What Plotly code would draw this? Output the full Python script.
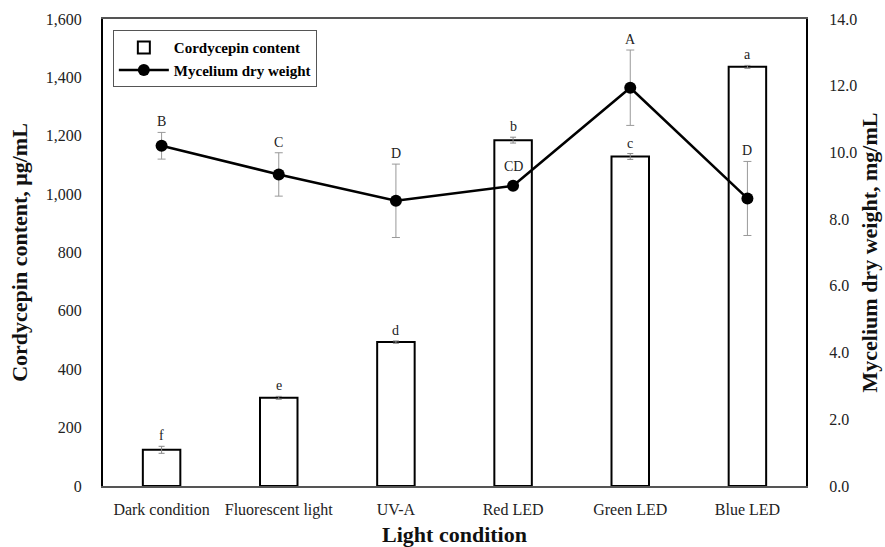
import plotly.graph_objects as go

categories = ["Dark condition", "Fluorescent light", "UV-A", "Red LED", "Green LED", "Blue LED"]
cordycepin = [124, 302, 493, 1185, 1129, 1436]
cordycepin_err = [12, 5, 4, 10, 10, 5]
cordycepin_letters = ["f", "e", "d", "b", "c", "a"]
dry_weight = [10.2, 9.34, 8.55, 9.0, 11.94, 8.62]
dry_weight_err = [0.4, 0.65, 1.1, 0.05, 1.13, 1.11]
dry_weight_letters = ["B", "C", "D", "CD", "A", "D"]

FONT = "Liberation Serif"

fig = go.Figure()
fig.add_trace(go.Bar(
    x=categories, y=cordycepin, name="<b>Cordycepin content</b>",
    marker=dict(color="white", line=dict(color="black", width=2)),
    width=0.32,
    error_y=dict(type="data", array=cordycepin_err, color="#888888", thickness=1, width=3),
    yaxis="y",
))
fig.add_trace(go.Scatter(
    x=categories, y=dry_weight, name="<b>Mycelium dry weight</b>",
    mode="lines+markers",
    line=dict(color="black", width=2.5),
    marker=dict(color="black", size=12),
    error_y=dict(type="data", array=dry_weight_err, color="#999999", thickness=1, width=4),
    yaxis="y2",
))

annotations = []
for c, v, e, t in zip(categories, cordycepin, cordycepin_err, cordycepin_letters):
    annotations.append(dict(x=c, y=v + e, xref="x", yref="y", text=t, showarrow=False,
                            yanchor="bottom", yshift=1, font=dict(family=FONT, size=14, color="#222")))
for c, v, e, t in zip(categories, dry_weight, dry_weight_err, dry_weight_letters):
    ys = 1 if t != "CD" else 8
    annotations.append(dict(x=c, y=v + e, xref="x", yref="y2", text=t, showarrow=False,
                            yanchor="bottom", yshift=ys, font=dict(family=FONT, size=14, color="#222")))

fig.update_layout(
    width=885, height=547,
    margin=dict(l=103, r=79, t=19, b=61),
    paper_bgcolor="white", plot_bgcolor="white",
    font=dict(family=FONT, size=16, color="#222"),
    showlegend=True,
    legend=dict(x=0.014, y=0.976, xanchor="left", yanchor="top",
                bordercolor="#555", borderwidth=1, bgcolor="white",
                font=dict(family=FONT, size=15, color="black"),
                tracegroupgap=26, itemwidth=50, entrywidth=210),
    xaxis=dict(showline=True, linecolor="#555", linewidth=2, mirror=True, automargin=False,
               ticks="", ticklabelstandoff=8, tickfont=dict(family=FONT, size=16, color="#222"),
               title=dict(text="<b>Light condition</b>", font=dict(family=FONT, size=22, color="#111"), standoff=8)),
    yaxis=dict(range=[0, 1600], dtick=200, tickformat=",", showgrid=False, zeroline=False, automargin=False,
               showline=True, linecolor="black", linewidth=2, ticks="", ticklabelstandoff=16,
               tickfont=dict(family=FONT, size=16, color="#222"),
               title=dict(text="<b>Cordycepin content, μg/mL</b>", font=dict(family=FONT, size=22, color="#111"), standoff=12)),
    yaxis2=dict(range=[0, 14], dtick=2, tickformat=".1f", overlaying="y", side="right", automargin=False,
                showgrid=False, zeroline=False, showline=True, linecolor="black", linewidth=2, ticks="",
                ticklabelstandoff=18,
                tickfont=dict(family=FONT, size=16, color="#222"),
                title=dict(text="<b>Mycelium dry weight, mg/mL</b>", font=dict(family=FONT, size=22, color="#111"), standoff=4)),
    annotations=annotations,
)

fig.write_html("out.html")
